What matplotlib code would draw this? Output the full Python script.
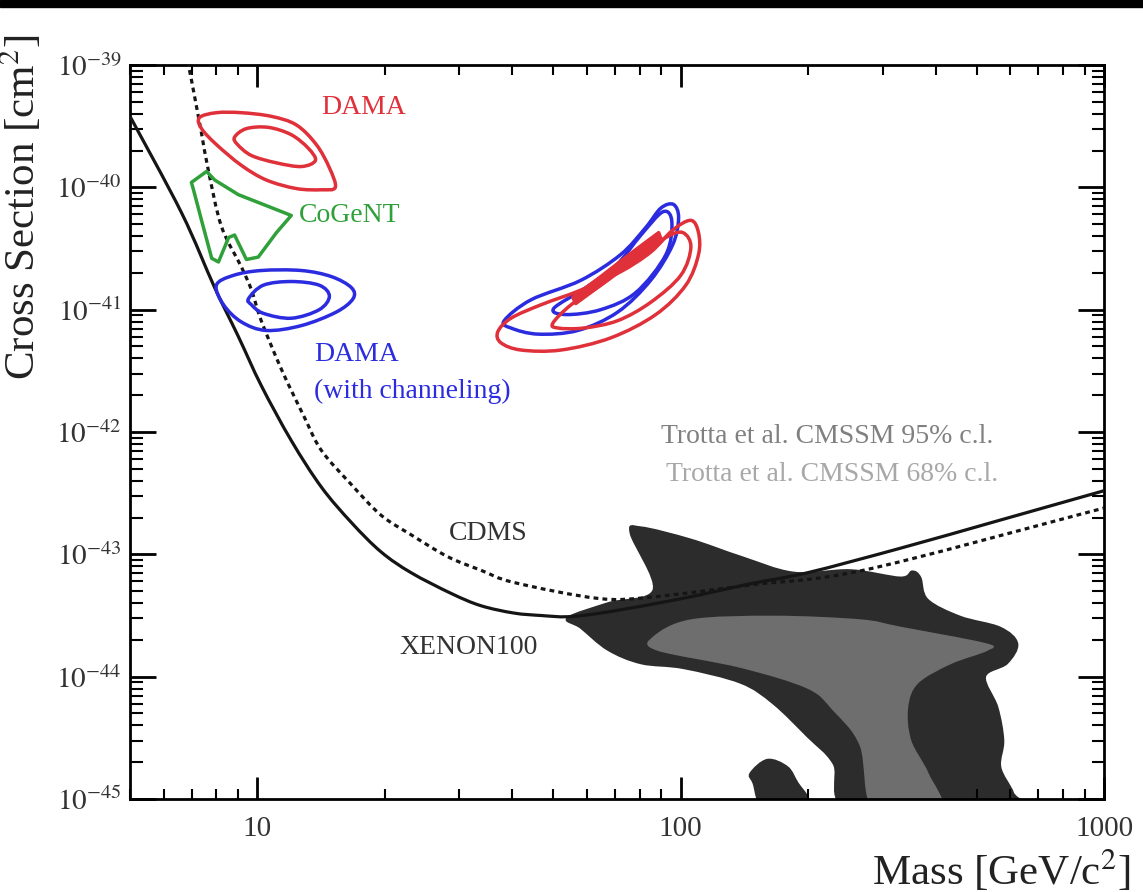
import numpy as np
import matplotlib.pyplot as plt
from matplotlib.patches import Rectangle, PathPatch
from matplotlib.path import Path
from matplotlib.ticker import LogLocator, NullFormatter

plt.rcParams['font.family'] = ['Liberation Serif', 'DejaVu Serif']
plt.rcParams['mathtext.fontset'] = 'stix'

# all shapes as (log10 mass [GeV], log10 cross section [cm^2])
xenon100 = [(0.699, -39.42), (0.821, -40.21), (0.899, -40.82), (0.955, -41.22),
            (1.009, -41.62), (1.080, -42.07), (1.151, -42.45), (1.222, -42.74),
            (1.292, -42.98), (1.363, -43.15), (1.458, -43.32), (1.528, -43.42),
            (1.606, -43.48), (1.670, -43.50), (1.733, -43.51), (1.811, -43.48),
            (1.929, -43.41), (2.047, -43.33), (2.165, -43.24), (2.300, -43.15),
            (2.519, -42.95), (2.755, -42.72), (3.000, -42.48)]
cdms = [(0.835, -38.97), (0.844, -39.12), (0.868, -39.56), (0.884, -39.86),
        (0.915, -40.32), (0.962, -40.65), (0.986, -40.84), (1.009, -41.09),
        (1.057, -41.49), (1.111, -41.88), (1.151, -42.15), (1.222, -42.43),
        (1.292, -42.68), (1.363, -42.84), (1.450, -43.02), (1.528, -43.13),
        (1.606, -43.23), (1.804, -43.36), (1.929, -43.35), (2.165, -43.25),
        (2.432, -43.13), (2.936, -42.68), (3.000, -42.62)]

dama_outer = [(0.863, -39.43), (0.903, -39.39), (0.962, -39.39), (1.033, -39.42),
              (1.092, -39.49), (1.139, -39.65), (1.170, -39.84), (1.184, -40.00),
              (1.151, -40.02), (1.092, -40.01), (1.021, -39.94), (0.962, -39.82),
              (0.903, -39.65), (0.868, -39.52)]
dama_inner = [(0.946, -39.59), (0.974, -39.52), (1.026, -39.51), (1.080, -39.57),
              (1.120, -39.68), (1.137, -39.78), (1.104, -39.83), (1.045, -39.80),
              (0.986, -39.74), (0.953, -39.65)]
cogent = [(0.844, -39.96), (0.880, -39.87), (0.899, -39.94), (0.955, -40.06),
          (1.014, -40.14), (1.080, -40.23), (1.045, -40.37), (1.002, -40.57),
          (0.974, -40.59), (0.946, -40.39), (0.932, -40.41), (0.908, -40.61),
          (0.892, -40.58), (0.868, -40.27), (0.849, -40.02)]
damach_outer = [(0.903, -40.80), (0.943, -40.72), (1.009, -40.68), (1.104, -40.68),
                (1.175, -40.73), (1.222, -40.82), (1.226, -40.91), (1.186, -41.02),
                (1.104, -41.13), (1.021, -41.17), (0.962, -41.10), (0.920, -40.96)]
damach_inner = [(0.979, -40.91), (1.014, -40.80), (1.080, -40.77), (1.146, -40.80),
                (1.170, -40.89), (1.146, -41.00), (1.080, -41.07), (1.014, -41.03),
                (0.986, -40.96)]

# high mass DAMA solutions
dama_hi_outer = [(1.568, -41.18), (1.599, -41.07), (1.670, -40.96), (1.764, -40.84),
                 (1.858, -40.69), (1.929, -40.53), (1.981, -40.35), (2.024, -40.27),
                 (2.042, -40.37), (2.042, -40.55), (2.012, -40.80), (1.941, -41.04),
                 (1.835, -41.23), (1.717, -41.33), (1.623, -41.33), (1.575, -41.27)]
dama_hi_inner = [(1.698, -41.11), (1.741, -40.96), (1.811, -40.80), (1.894, -40.58),
                 (1.965, -40.41), (2.005, -40.37), (2.024, -40.49), (2.000, -40.72),
                 (1.929, -40.94), (1.851, -41.09), (1.771, -41.15), (1.710, -41.15)]
dama_hi_best = [(1.745, -40.90), (1.811, -40.73), (1.882, -40.54), (1.948, -40.37),
                (1.955, -40.44), (1.882, -40.62), (1.811, -40.80), (1.752, -40.95)]
damach_hi_outer = [(1.583, -41.09), (1.646, -40.92), (1.764, -40.76), (1.858, -40.55),
                   (1.917, -40.33), (1.953, -40.17), (1.983, -40.14), (1.995, -40.25),
                   (1.981, -40.47), (1.929, -40.76), (1.851, -41.02), (1.757, -41.17),
                   (1.663, -41.20), (1.599, -41.15)]
damach_hi_inner = [(1.700, -40.99), (1.776, -40.82), (1.847, -40.64), (1.906, -40.39),
                   (1.958, -40.20), (1.979, -40.28), (1.965, -40.55), (1.894, -40.86),
                   (1.811, -41.00), (1.729, -41.04)]

# Trotta et al. CMSSM regions
cmssm_95 = [(1.733, -43.52), (1.828, -43.40), (1.936, -43.29), (1.882, -42.83),
            (1.906, -42.78), (2.024, -42.88), (2.142, -43.02), (2.267, -43.15),
            (2.401, -43.13), (2.519, -43.19), (2.547, -43.14), (2.566, -43.19),
            (2.583, -43.37), (2.660, -43.51), (2.755, -43.60), (2.795, -43.73),
            (2.771, -43.89), (2.719, -44.00), (2.748, -44.25), (2.762, -44.52),
            (2.755, -44.74), (2.785, -44.95), (2.790, -45.10), (2.408, -45.10),
            (2.361, -44.71), (2.300, -44.49), (2.219, -44.22), (2.142, -44.05),
            (2.007, -43.93), (1.906, -43.89), (1.828, -43.78), (1.764, -43.60)]
cmssm_95_island = [(2.172, -44.87), (2.165, -44.79), (2.205, -44.68), (2.252, -44.74),
                   (2.276, -44.87), (2.300, -44.99), (2.300, -45.10), (2.200, -45.10)]
cmssm_68 = [(1.936, -43.68), (2.024, -43.54), (2.219, -43.51), (2.425, -43.54),
            (2.519, -43.60), (2.715, -43.73), (2.724, -43.78), (2.637, -43.89),
            (2.559, -44.05), (2.535, -44.25), (2.542, -44.52), (2.583, -44.79),
            (2.613, -45.10), (2.460, -45.10), (2.425, -44.56), (2.361, -44.27),
            (2.300, -44.09), (2.142, -43.92), (1.946, -43.78)]

y_exps = [-45, -44, -43, -42, -41, -40, -39]
x_ticks = [10, 100, 1000]


def smooth_path(pts, closed=True):
    # Catmull-Rom curve through the traced points (in log space)
    a = np.array(pts, dtype=float)
    n = len(a)
    if closed:
        get = lambda i: a[i % n]
        segs = n
    else:
        get = lambda i: a[min(max(i, 0), n - 1)]
        segs = n - 1
    verts = [a[0]]
    codes = [Path.MOVETO]
    for i in range(segs):
        p0, p1, p2, p3 = get(i - 1), get(i), get(i + 1), get(i + 2)
        verts += [p1 + (p2 - p0) / 6, p2 - (p3 - p1) / 6, p2]
        codes += [Path.CURVE4] * 3
    if closed:
        verts.append(a[0])
        codes.append(Path.CLOSEPOLY)
    return Path(10 ** np.array(verts), codes)


RED = '#e0303a'
BLUE = '#2b2be0'
GREEN = '#2fa03a'

fig = plt.figure(figsize=(11.43, 8.92), dpi=100)
fig.add_artist(Rectangle((0, 1 - 7 / 892), 1, 7 / 892, transform=fig.transFigure,
                         color='black'))
ax = fig.add_axes([130 / 1143, 1 - 799 / 892, 974 / 1143, 734 / 892])
ax.set_xscale('log')
ax.set_yscale('log')
ax.set_xlim(5, 1000)
ax.set_ylim(1e-45, 1e-39)

for pts, c, z in [(cmssm_95, '#2c2c2c', 1), (cmssm_95_island, '#2c2c2c', 1),
                  (cmssm_68, '#6e6e6e', 2)]:
    ax.add_patch(PathPatch(smooth_path(pts), facecolor=c, edgecolor=c, lw=1.5,
                           zorder=z))

ax.add_patch(PathPatch(smooth_path(xenon100, closed=False), facecolor='none',
                       edgecolor='#151515', lw=2.3, zorder=3))
ax.add_patch(PathPatch(smooth_path(cdms, closed=False), facecolor='none',
                       edgecolor='#151515', lw=2.3, ls=(0, (1.5, 1.3)), zorder=3))

for pts, c in [(dama_outer, RED), (dama_inner, RED),
               (damach_outer, BLUE), (damach_inner, BLUE),
               (damach_hi_outer, BLUE), (damach_hi_inner, BLUE),
               (dama_hi_outer, RED), (dama_hi_inner, RED)]:
    ax.add_patch(PathPatch(smooth_path(pts), facecolor='none', edgecolor=c,
                           lw=2.5, zorder=4))
ax.fill(*(10 ** np.array(cogent).T), facecolor='none', edgecolor=GREEN, lw=2.5,
        joinstyle='round', zorder=4)
ax.fill(*(10 ** np.array(dama_hi_best).T), facecolor=RED, edgecolor=RED, lw=2.5,
        joinstyle='round', zorder=4)

ax.set_xticks(x_ticks, labels=[str(t) for t in x_ticks])
ax.set_yticks([10.0 ** e for e in y_exps], labels=[f'$10^{{{e}}}$' for e in y_exps])
ax.xaxis.set_minor_locator(LogLocator(base=10, subs=range(2, 10), numticks=20))
ax.yaxis.set_minor_locator(LogLocator(base=10, subs=range(2, 10), numticks=20))
ax.xaxis.set_minor_formatter(NullFormatter())
ax.yaxis.set_minor_formatter(NullFormatter())

ax.tick_params(which='both', direction='in', top=True, right=True,
               labelsize=21, labelcolor='#333333')
ax.tick_params(axis='y', which='major', length=19, width=2, pad=6)
ax.tick_params(axis='y', which='minor', length=9, width=1.5)
ax.tick_params(axis='x', which='major', length=16, width=2, pad=12)
ax.tick_params(axis='x', which='minor', length=7, width=1.5)
for s in ax.spines.values():
    s.set_linewidth(2)

ax.set_xlabel('Mass [GeV/c$^2$]', fontsize=31, color='#222222')
ax.xaxis.set_label_coords(0.895, -0.066)
ax.set_ylabel('Cross Section [cm$^2$]', fontsize=31, color='#222222')
ax.yaxis.set_label_coords(-0.088, 0.806)

kw = dict(fontsize=20, va='center')
ax.text(17.8, 10 ** -39.35, 'DAMA', color=RED, ha='center', **kw)
ax.text(12.5, 10 ** -40.23, 'CoGeNT', color=GREEN, ha='left', **kw)
ax.text(13.6, 10 ** -41.37, 'DAMA', color=BLUE, ha='left', **kw)
ax.text(13.6, 10 ** -41.67, '(with channeling)', color=BLUE, ha='left', **kw)
ax.text(35.1, 10 ** -42.83, 'CDMS', color='#333333', ha='center', **kw)
ax.text(31.6, 10 ** -43.76, 'XENON100', color='#333333', ha='center', **kw)
ax.text(89.8, 10 ** -42.04, 'Trotta et al. CMSSM 95% c.l.', color='#808080',
        ha='left', **kw)
ax.text(92.2, 10 ** -42.35, 'Trotta et al. CMSSM 68% c.l.', color='#a8a8a8',
        ha='left', **kw)

fig.savefig('out.png', dpi=100)
